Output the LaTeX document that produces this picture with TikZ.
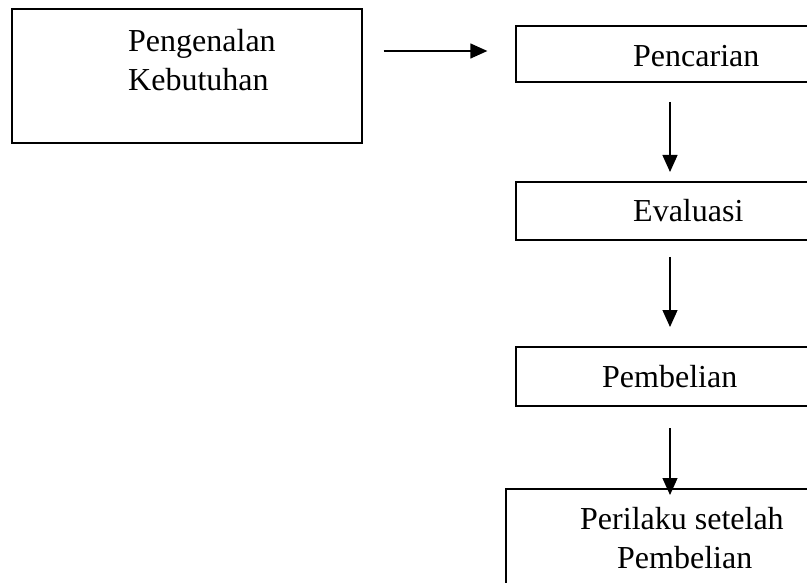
\documentclass[tikz,border=0pt]{standalone}
\usepackage{fontspec}
\setmainfont{Liberation Serif}
\usetikzlibrary{arrows.meta}
\begin{document}
\begin{tikzpicture}[x=1pt,y=-1pt,
  box/.style={draw=black,line width=1.3pt,rectangle,inner sep=0pt},
  lbl/.style={anchor=base west,inner sep=0pt,font=\fontsize{32}{39}\selectfont},
  arr/.style={line width=1.3pt,-{Triangle[length=17pt,width=15pt]}}]
\useasboundingbox (0,0) rectangle (807,583);
\clip (0,0) rectangle (807,583);
\fill[white] (0,0) rectangle (807,583);
% boxes
\node[box,minimum width=350pt,minimum height=134pt] (b1) at (187,76) {};
\node[box,minimum width=360pt,minimum height=56pt] (b2) at (696,54) {};
\node[box,minimum width=360pt,minimum height=58pt] (b3) at (696,211) {};
\node[box,minimum width=360pt,minimum height=59pt] (b4) at (696,376.5) {};
\node[box,minimum width=370pt,minimum height=120pt] (b5) at (691,549) {};
% labels
\node[lbl] (t1a) at (128,52) {Pengenalan};
\node[lbl] (t1b) at (128,91) {Kebutuhan};
\node[lbl] (t2) at (633,67) {Pencarian};
\node[lbl] (t3) at (633,222) {Evaluasi};
\node[lbl] (t4) at (602,387) {Pembelian};
\node[lbl] (t5a) at (580,529) {Perilaku setelah};
\node[lbl] (t5b) at (617,568) {Pembelian};
% connector ends
\coordinate (h1) at (b1.east |- 0,51);
\coordinate (h2) at (b2.west |- 0,51);
\coordinate (v1s) at (670,102);
\coordinate (v1e) at (670,172);
\coordinate (v2s) at (670,257);
\coordinate (v2e) at (670,327);
\coordinate (v3s) at (670,428);
\coordinate (v3e) at (670,495);
% arrows
\draw[arr,shorten <=21pt,shorten >=28pt] (h1) -- (h2);
\draw[arr] (v1s) -- (v1e);
\draw[arr] (v2s) -- (v2e);
\draw[arr] (v3s) -- (v3e);
\end{tikzpicture}
\end{document}
